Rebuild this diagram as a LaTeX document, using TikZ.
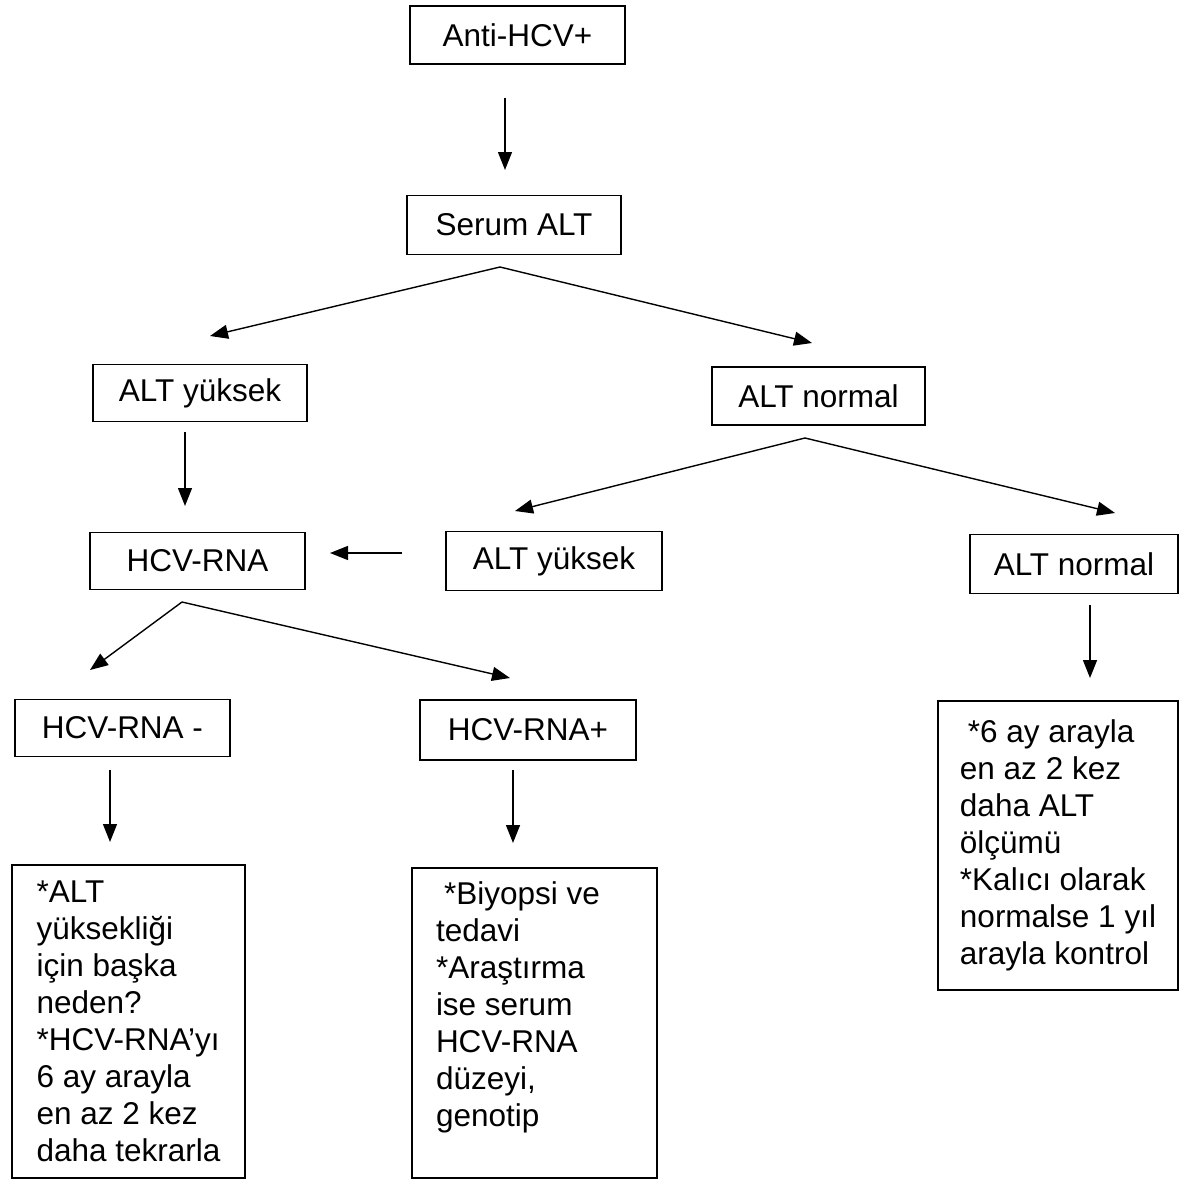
\documentclass[tikz,border=0pt]{standalone}
\usepackage{fontspec}
\setmainfont{Liberation Sans}
\usetikzlibrary{arrows.meta}

\begin{document}
\begin{tikzpicture}[
    x=1pt, y=-1pt,
    line width=1.4pt,
    box/.style={draw, inner sep=0pt, font=\fontsize{31.5}{37}\selectfont},
    note/.style={box, align=left, inner xsep=22pt},
    arr/.style={-{Triangle[length=18pt,width=14pt]}}
]
\useasboundingbox (0,0) rectangle (1180,1180);

% Boxes
\node[box, minimum width=215pt, minimum height=58pt] (anti) at (517.5,35) {Anti-HCV+};
\node[box, minimum width=214pt, minimum height=59pt] (serum) at (514,225) {Serum ALT};
\node[box, minimum width=214pt, minimum height=57pt] (high1) at (200,393) {ALT yüksek};
\node[box, minimum width=213pt, minimum height=58pt] (norm1) at (818.5,396) {ALT normal};
\node[box, minimum width=215pt, minimum height=57pt] (rna) at (197.5,561) {HCV-RNA};
\node[box, minimum width=216pt, minimum height=59pt] (high2) at (554,561) {ALT yüksek};
\node[box, minimum width=208pt, minimum height=59pt] (norm2) at (1074,564) {ALT normal};
\node[box, minimum width=215pt, minimum height=57pt] (rnaneg) at (122.5,728) {HCV-RNA -};
\node[box, minimum width=216pt, minimum height=60pt] (rnapos) at (528,730) {HCV-RNA+};

% Notes
\node[note, minimum width=233pt, minimum height=313pt] (noteneg) at (128.5,1021.5)
    {{*}ALT\\ yüksekliği\\ için başka\\ neden?\\ {*}HCV-RNA’yı\\ 6 ay arayla\\ en az 2 kez\\ daha tekrarla};
\node[note, inner xsep=24pt, minimum width=245pt, minimum height=310pt] (notepos) at (534.5,1023)
    {\hspace{8pt}{*}Biyopsi ve\\ tedavi\\ {*}Araştırma\\ ise serum\\ HCV-RNA\\ düzeyi,\\ genotip\\ \hspace*{197pt}};
\node[note, inner xsep=20pt, minimum width=240pt, minimum height=289pt] (notenorm) at (1058,845.5)
    {\hspace{8pt}{*}6 ay arayla\\ en az 2 kez\\ daha ALT\\ ölçümü\\ {*}Kalıcı olarak\\ normalse 1 yıl\\ arayla kontrol};

% Forks
\coordinate (serumfork) at (500,267);
\coordinate (normfork) at (805,438);
\coordinate (rnafork) at (182,602);

% Arrows
\draw[arr] (505,98) -- (505,170);
\draw[arr] (serumfork) -- (210,336);
\draw[arr] (serumfork) -- (812,343);
\draw[arr] (185,432) -- (185,506);
\draw[arr] (402,553) -- (330,553);
\draw[arr] (normfork) -- (515,511);
\draw[arr] (normfork) -- (1115,513);
\draw[arr] (1090,605) -- (1090,678);
\draw[arr] (rnafork) -- (90,670);
\draw[arr] (rnafork) -- (510,678);
\draw[arr] (110,770) -- (110,842);
\draw[arr] (513,770) -- (513,843);
\end{tikzpicture}
\end{document}
